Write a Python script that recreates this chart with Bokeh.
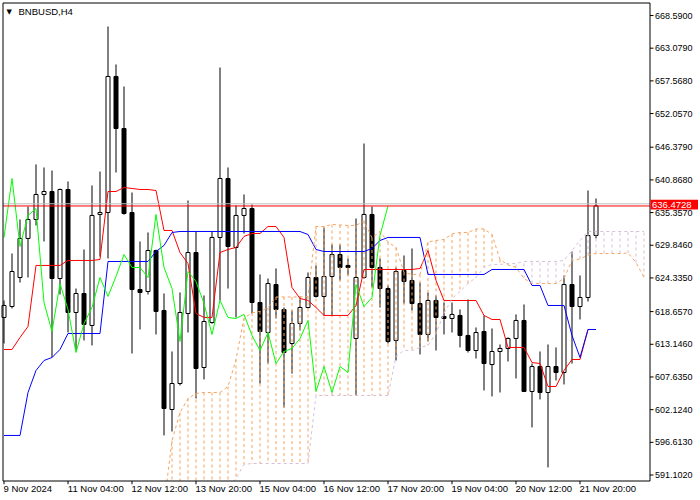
from bokeh.plotting import figure
from bokeh.models import Range1d, FixedTicker, Label, ColumnDataSource
from bokeh.embed import file_html
from bokeh.resources import INLINE
from bokeh.core.properties import value

symbol_text = "BNBUSD,H4"

bar_open = [617.67, 619.52, 624.41, 630.99, 634.19, 638.41, 638.91, 624.24, 639.25, 618.51,
            621.71, 616.32, 635.04, 635.37, 658.31, 649.53, 635.37, 622.38, 622.05, 628.96,
            618.85, 602.15, 606.53, 618.34, 628.62, 609.23, 616.82, 631.16, 641.10, 629.47,
            634.87, 636.04, 620.19, 615.13, 623.22, 619.01, 613.28, 616.65, 619.35, 624.41,
            621.21, 624.58, 628.28, 626.44, 614.13, 624.41, 635.04, 626.10, 622.55, 613.79,
            625.59, 623.90, 620.02, 614.80, 620.53, 617.84, 617.50, 618.01, 614.63, 612.10,
            615.30, 609.73, 611.93, 612.44, 614.13, 617.16, 605.19, 609.39, 605.02, 609.39,
            608.39, 623.22, 619.52, 621.04, 631.49]
bar_high = [620.53, 628.45, 634.19, 636.38, 643.47, 642.96, 642.45, 639.40, 640.60, 622.55,
            629.13, 639.93, 642.28, 666.74, 660.33, 656.62, 638.74, 630.48, 632.00, 629.10,
            621.71, 611.93, 621.88, 637.39, 632.17, 621.38, 632.17, 659.82, 642.96, 636.55,
            638.41, 636.72, 624.92, 624.24, 625.93, 619.35, 618.85, 621.21, 625.25, 626.44,
            632.84, 629.97, 629.97, 627.61, 634.36, 647.00, 636.38, 627.61, 623.06, 626.10,
            628.12, 629.30, 623.56, 621.88, 621.38, 620.19, 620.19, 619.02, 620.70, 615.98,
            618.01, 615.81, 613.11, 614.30, 618.18, 619.86, 609.90, 611.93, 613.11, 612.61,
            624.75, 628.79, 624.75, 639.08, 637.73]
bar_low = [613.28, 619.18, 623.56, 624.41, 633.18, 630.48, 610.92, 621.55, 615.13, 612.10,
           613.79, 612.95, 627.95, 627.61, 642.11, 635.00, 611.59, 615.64, 621.55, 614.80,
           597.77, 598.44, 606.20, 615.13, 604.01, 607.21, 616.60, 620.53, 622.55, 617.67,
           631.83, 618.34, 606.53, 609.90, 617.50, 602.49, 608.22, 615.47, 619.18, 621.04,
           618.01, 618.01, 623.90, 624.75, 604.51, 624.20, 622.72, 619.35, 613.28, 610.41,
           620.02, 618.85, 611.43, 613.62, 612.10, 614.80, 615.13, 612.61, 611.76, 610.75,
           605.36, 604.35, 605.02, 610.24, 607.38, 605.10, 599.12, 603.84, 592.38, 607.04,
           606.37, 609.90, 617.33, 620.36, 630.99]
bar_close = [619.69, 625.42, 630.99, 634.19, 638.41, 638.91, 624.24, 639.25, 618.51, 621.71,
             616.49, 634.87, 635.37, 658.31, 649.53, 635.20, 622.38, 621.88, 628.96, 618.68,
             602.32, 606.53, 618.51, 628.62, 609.06, 616.99, 631.16, 641.10, 629.64, 634.87,
             636.04, 620.19, 615.30, 623.39, 619.01, 611.76, 616.65, 619.35, 624.41, 621.21,
             624.58, 628.28, 626.10, 626.10, 624.41, 635.04, 626.10, 622.55, 613.62, 625.42,
             623.73, 620.02, 614.80, 620.53, 617.67, 617.50, 618.18, 614.63, 612.10, 615.13,
             609.90, 611.93, 612.44, 614.13, 617.16, 605.19, 609.39, 605.02, 609.39, 608.39,
             623.22, 619.52, 621.04, 631.49, 636.4728]

tenkan = [612.27, 612.27, 614.29, 616.15, 626.44, 626.44, 626.44, 626.44, 627.28, 627.28,
          627.28, 627.28, 627.45, 638.91, 638.91, 639.59, 639.42, 639.25, 639.25, 639.08,
          632.34, 632.34, 628.62, 626.77, 618.34, 617.67, 617.67, 628.62, 629.13, 629.47,
          631.33, 631.83, 631.83, 633.01, 633.01, 631.16, 622.72, 620.87, 620.53, 619.35,
          618.01, 618.01, 618.01, 618.01, 619.69, 625.76, 625.76, 625.76, 625.76, 625.76,
          625.76, 625.76, 625.93, 628.96, 623.90, 620.53, 620.53, 620.53, 620.53, 620.53,
          618.01, 617.33, 617.33, 612.61, 612.61, 612.61, 610.07, 609.90, 606.03, 606.03,
          608.73, 610.58, 610.58, 615.64, 615.64]
kijun = [597.77, 597.77, 597.77, 605.02, 608.73, 610.41, 610.92, 612.27, 614.96, 614.96,
         614.96, 614.96, 614.96, 627.11, 627.11, 627.11, 627.11, 627.11, 627.11, 628.79,
         629.81, 632.00, 632.17, 632.17, 632.17, 632.17, 632.17, 632.17, 632.17, 632.17,
         632.17, 632.17, 632.17, 632.17, 632.17, 632.17, 632.17, 632.17, 631.66, 629.13,
         628.79, 628.79, 628.79, 628.79, 628.79, 628.79, 629.30, 630.65, 631.16, 631.16,
         631.16, 631.16, 631.16, 624.92, 624.92, 624.92, 624.92, 624.92, 624.92, 624.92,
         624.92, 625.76, 625.76, 625.76, 625.76, 625.76, 623.06, 623.06, 619.69, 619.69,
         619.69, 614.63, 610.92, 615.64, 615.64]

span_a_first_bar = 20
span_a = [585.97, 596.92, 601.64, 604.01, 604.85, 605.02, 605.02, 605.02, 606.03, 610.58,
          617.59, 618.43, 618.68, 619.35, 621.12, 621.12, 621.12, 621.12, 621.21, 633.01,
          633.01, 633.35, 633.26, 633.18, 633.18, 633.94, 631.08, 632.17, 630.40, 629.47,
          625.25, 624.92, 624.92, 630.40, 630.65, 630.82, 631.75, 632.00, 632.00, 632.59,
          632.59, 631.66, 627.45, 626.52, 626.10, 624.24, 623.39, 623.39, 623.39, 623.39,
          624.24, 627.28, 627.53, 628.20, 628.45, 628.45, 628.45, 628.45, 628.54, 626.94,
          624.41]
span_b_first_bar = 28
span_b = [588.15, 590.52, 592.88, 593.04, 593.04, 593.04, 593.04, 593.04, 593.04, 593.04,
          593.04, 604.51, 604.51, 604.51, 604.51, 604.51, 604.51, 604.51, 604.51, 604.51,
          604.51, 611.09, 612.10, 612.10, 612.61, 612.95, 614.97, 618.34, 620.87, 622.05,
          623.39, 624.41, 626.10, 626.61, 626.61, 626.77, 626.77, 627.11, 627.11, 627.11,
          627.11, 627.11, 627.28, 628.96, 630.65, 632.17, 632.17, 632.17, 632.17, 632.17,
          632.17, 632.17, 632.17]
chikou_shift = 26

bid_price = 636.4728
ask_price = 636.84

time_labels = ["9 Nov 2024", "11 Nov 04:00", "12 Nov 12:00", "13 Nov 20:00", "15 Nov 04:00",
               "16 Nov 12:00", "17 Nov 20:00", "19 Nov 04:00", "20 Nov 12:00", "21 Nov 20:00"]
time_label_step = 8
price_ticks = [668.5900, 663.0790, 657.5680, 652.0570, 646.3790, 640.8680, 635.3570,
               629.8460, 624.3350, 618.6570, 613.1460, 607.6350, 602.1240, 596.6130, 591.1020]

# ---------------- layout (pixels) ----------------
W, H = 700, 500
FRAME_H = 484                # plotting frame covers page y 0..484, x 0..700
CHART_BOTTOM_PX = 480.5      # bottom edge line of the chart window
PX_PER_BAR = 8.0
BAR0_PX = 3.5                # page x of bar 0
PX_PER_PRICE = 5.93
REF_PRICE, REF_PX = 668.59, 15.0   # a price and its page y
AXIS_PX = 649.5              # price-scale line
FONT = "Liberation Sans"
X_FONT_PX = 9.5


def px_x(px):
    return (px - BAR0_PX) / PX_PER_BAR


def px_y(py):
    return REF_PRICE - (py - REF_PX) / PX_PER_PRICE


x_start, x_end = px_x(0), px_x(W)
y_end, y_start = px_y(0), px_y(FRAME_H)
axis_x = px_x(AXIS_PX)
left_x = px_x(2.5)
top_y = px_y(2.5)
bottom_y = px_y(CHART_BOTTOM_PX)

p = figure(frame_width=W, frame_height=FRAME_H,
           x_range=Range1d(x_start, x_end), y_range=Range1d(y_start, y_end),
           output_backend="svg", toolbar_location=None, y_axis_location=None,
           min_border_left=0, min_border_top=0, min_border_right=0,
           min_border_bottom=H - FRAME_H,
           background_fill_color="white", border_fill_color="white")
p.outline_line_color = None
p.grid.visible = False

n = len(bar_close)
bars = list(range(n))
src = ColumnDataSource(dict(
    x=bars, o=bar_open, h=bar_high, l=bar_low, c=bar_close,
    top=[max(o, c) for o, c in zip(bar_open, bar_close)],
    bottom=[min(o, c) for o, c in zip(bar_open, bar_close)],
    fill=["white" if c >= o else "black" for o, c in zip(bar_open, bar_close)],
))
p.segment(x0="x", y0="l", x1="x", y1="h", source=src, line_color="black", line_width=1)
p.vbar(x="x", width=0.5, top="top", bottom="bottom", fill_color="fill",
       line_color="black", line_width=1, source=src)

# cloud hatching between the two senkou spans
hx, ha, hb, hc = [], [], [], []
for i, a in enumerate(span_a):
    k = span_a_first_bar + i
    j = k - span_b_first_bar
    b = span_b[j] if j >= 0 else y_start
    hx.append(k)
    ha.append(a)
    hb.append(b)
    hc.append("sandybrown" if a >= b else "thistle")
p.segment(x0=hx, y0=ha, x1=hx, y1=hb, line_color=hc, line_width=1, line_dash="3 3")

p.line(bars, tenkan, line_color="red", line_width=1)
p.line(bars, kijun, line_color="blue", line_width=1)
p.line([k - chikou_shift for k in range(chikou_shift, n)], bar_close[chikou_shift:],
       line_color="lime", line_width=1)
p.line([span_a_first_bar + i for i in range(len(span_a))], span_a,
       line_color="sandybrown", line_width=1, line_dash="3 3")
p.line([span_b_first_bar + i for i in range(len(span_b))], span_b,
       line_color="thistle", line_width=1, line_dash="3 3")

# blank strip below the chart window (holds the time-scale tick marks)
p.quad(left=[x_start], right=[x_end], top=[bottom_y], bottom=[y_start],
       fill_color="white", line_color=None)

# ask / bid lines
p.segment(x0=[left_x, left_x], y0=[ask_price, bid_price], x1=[axis_x, axis_x],
          y1=[ask_price, bid_price], line_color=["#C0C0C0", "red"], line_width=1)

# chart frame (left, top, bottom) and price-scale line
p.segment(x0=[left_x, left_x, left_x, axis_x], y0=[bottom_y, top_y, bottom_y, bottom_y],
          x1=[left_x, axis_x, axis_x, axis_x], y1=[top_y, top_y, bottom_y, top_y],
          line_color="black", line_width=1)

# price scale: ticks and labels
p.segment(x0=[axis_x] * len(price_ticks), y0=price_ticks,
          x1=[px_x(AXIS_PX + 3.5)] * len(price_ticks), y1=price_ticks,
          line_color="black", line_width=1)
p.text(x=[px_x(AXIS_PX + 5)] * len(price_ticks), y=price_ticks,
       text=["%.4f" % v for v in price_ticks], text_font=value(FONT),
       text_font_size="9px", text_color="black", text_align="left",
       text_baseline="middle")

# current price box
p.quad(left=[px_x(AXIS_PX + 0.5)], right=[px_x(697.5)],
       top=[bid_price + 6.2 / PX_PER_PRICE], bottom=[bid_price - 3.6 / PX_PER_PRICE],
       fill_color="red", line_color=None)
p.text(x=[px_x(AXIS_PX + 2)], y=[bid_price + 1.2 / PX_PER_PRICE], text=["%.4f" % bid_price],
       text_font=value(FONT), text_font_size="9.5px", text_color="white",
       text_align="left", text_baseline="middle")

# time scale tick marks
tick_bars = [i * time_label_step for i in range(len(time_labels))]
p.segment(x0=tick_bars, y0=[bottom_y] * len(tick_bars), x1=tick_bars,
          y1=[px_y(FRAME_H)] * len(tick_bars), line_color="black", line_width=1)

# time scale labels: left-aligned at their tick marks
CHAR_EM = {" ": 0.278, ":": 0.278, "N": 0.722, "o": 0.556, "v": 0.5}


def text_width_px(s, size):
    return sum(CHAR_EM.get(ch, 0.556) for ch in s) * size


label_pos = [b + text_width_px(t, X_FONT_PX) / 2 / PX_PER_BAR - 0.06
             for b, t in zip(tick_bars, time_labels)]
xl = p.xaxis[0]
xl.ticker = FixedTicker(ticks=label_pos)
xl.major_label_overrides = {pos: t for pos, t in zip(label_pos, time_labels)}
xl.axis_line_color = None
xl.major_tick_line_color = None
xl.major_tick_in = 0
xl.major_tick_out = 0
xl.minor_tick_line_color = None
xl.major_label_standoff = -2
xl.major_label_text_font = FONT
xl.major_label_text_font_size = "%gpx" % X_FONT_PX
xl.major_label_text_color = "black"

# symbol title
p.add_layout(Label(x=6, y=FRAME_H - 11, x_units="screen", y_units="screen", text="\u25bc",
                   text_font="DejaVu Sans", text_font_size="7px", text_color="black",
                   text_baseline="middle"))
p.add_layout(Label(x=18, y=FRAME_H - 11, x_units="screen", y_units="screen", text=symbol_text,
                   text_font=FONT, text_font_size="9.5px", text_color="black",
                   text_baseline="middle"))

open("out.html", "w").write(file_html(p, INLINE))
